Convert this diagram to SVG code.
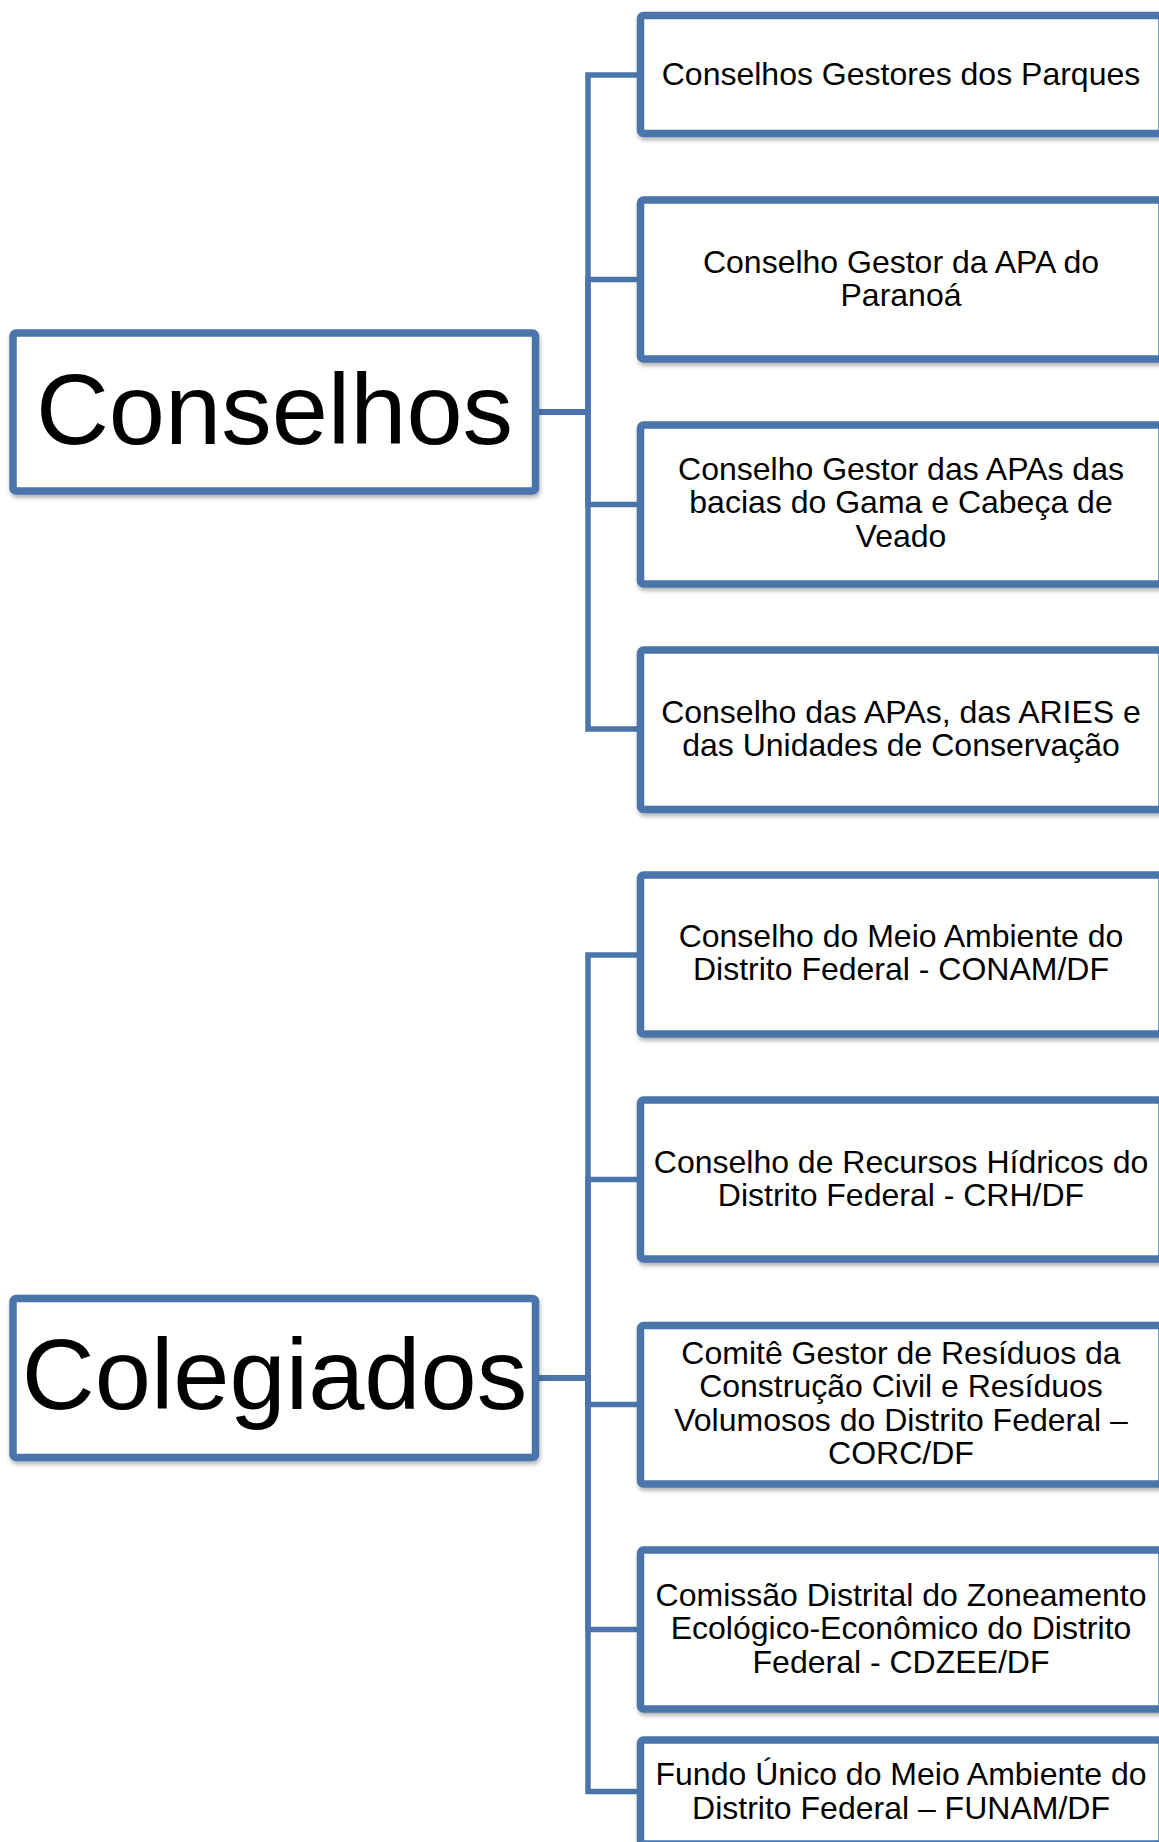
<svg xmlns="http://www.w3.org/2000/svg" width="1159" height="1842" viewBox="0 0 1159 1842">
<style>
.box{fill:#ffffff;stroke:#4A74AA;stroke-width:7.5;filter:url(#sh)}
.conn{fill:none;stroke:#4A74AA;stroke-width:5.5;stroke-linejoin:miter}
.t{font-family:"Liberation Sans",Arial,sans-serif;font-size:32px;fill:#000;text-anchor:middle}
.big{font-family:"Liberation Sans",Arial,sans-serif;font-size:101px;fill:#000;text-anchor:middle}
</style>
<defs>
<filter id="sh" x="-5%" y="-10%" width="110%" height="130%">
<feDropShadow dx="1" dy="3" stdDeviation="2" flood-color="#000" flood-opacity="0.3"/>
</filter>
</defs>
<rect width="1159" height="1842" fill="#ffffff"/>
<g id="connectors">
<path class="conn" d="M535.5,412 H588 V75 H641"/>
<path class="conn" d="M535.5,412 H588 V279.5 H641"/>
<path class="conn" d="M535.5,412 H588 V504.5 H641"/>
<path class="conn" d="M535.5,412 H588 V729 H641"/>
<path class="conn" d="M535.5,1378 H588 V955 H641"/>
<path class="conn" d="M535.5,1378 H588 V1179.5 H641"/>
<path class="conn" d="M535.5,1378 H588 V1404.5 H641"/>
<path class="conn" d="M535.5,1378 H588 V1629.5 H641"/>
<path class="conn" d="M535.5,1378 H588 V1791.5 H641"/>
</g>
<g id="conselhos">
<rect class="box" x="13" y="333" width="522.5" height="158" rx="3"/>
<text class="big" x="274.5" y="444">Conselhos</text>
</g>
<g id="colegiados">
<rect class="box" x="13" y="1298.5" width="522.5" height="159" rx="3"/>
<text class="big" x="274.5" y="1409">Colegiados</text>
</g>
<g id="n1">
<rect class="box" x="640.5" y="15.5" width="521.5" height="118" rx="3"/>
<text class="t" x="901" y="85">Conselhos Gestores dos Parques</text>
</g>
<g id="n2">
<rect class="box" x="640.5" y="200" width="521.5" height="159" rx="3"/>
<text class="t" x="901" y="272.7">Conselho Gestor da APA do</text>
<text class="t" x="901" y="305.5">Paranoá</text>
</g>
<g id="n3">
<rect class="box" x="640.5" y="425" width="521.5" height="159" rx="3"/>
<text class="t" x="901" y="480">Conselho Gestor das APAs das</text>
<text class="t" x="901" y="513.3">bacias do Gama e Cabeça de</text>
<text class="t" x="901" y="546.7">Veado</text>
</g>
<g id="n4">
<rect class="box" x="640.5" y="650" width="521.5" height="159.5" rx="3"/>
<text class="t" x="901" y="722.7">Conselho das APAs, das ARIES e</text>
<text class="t" x="901" y="755.5">das Unidades de Conservação</text>
</g>
<g id="n5">
<rect class="box" x="640.5" y="875" width="521.5" height="159" rx="3"/>
<text class="t" x="901" y="946.7">Conselho do Meio Ambiente do</text>
<text class="t" x="901" y="980">Distrito Federal - CONAM/DF</text>
</g>
<g id="n6">
<rect class="box" x="640.5" y="1100" width="521.5" height="159" rx="3"/>
<text class="t" x="901" y="1172.7">Conselho de Recursos Hídricos do</text>
<text class="t" x="901" y="1205.5">Distrito Federal - CRH/DF</text>
</g>
<g id="n7">
<rect class="box" x="640.5" y="1325.5" width="521.5" height="158.5" rx="3"/>
<text class="t" x="901" y="1364">Comitê Gestor de Resíduos da</text>
<text class="t" x="901" y="1397.3">Construção Civil e Resíduos</text>
<text class="t" x="901" y="1430.5">Volumosos do Distrito Federal –</text>
<text class="t" x="901" y="1463.5">CORC/DF</text>
</g>
<g id="n8">
<rect class="box" x="640.5" y="1550" width="521.5" height="159" rx="3"/>
<text class="t" x="901" y="1605.5">Comissão Distrital do Zoneamento</text>
<text class="t" x="901" y="1639">Ecológico-Econômico do Distrito</text>
<text class="t" x="901" y="1672.5">Federal - CDZEE/DF</text>
</g>
<g id="n9">
<rect class="box" x="640.5" y="1740" width="521.5" height="104" rx="3"/>
<text class="t" x="901" y="1785">Fundo Único do Meio Ambiente do</text>
<text class="t" x="901" y="1818.5">Distrito Federal – FUNAM/DF</text>
</g>
</svg>
